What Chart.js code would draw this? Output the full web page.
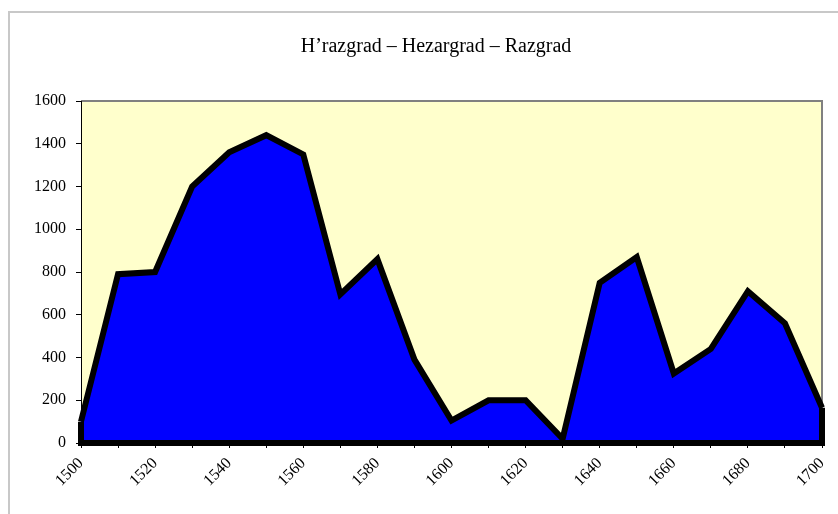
<!DOCTYPE html>
<html>
<head>
<meta charset="utf-8">
<script src="https://cdn.jsdelivr.net/npm/chart.js@4"></script>
<style>
  html, body { margin: 0; padding: 0; background: #ffffff; }
  #contenedor { width: 838px; height: 514px; }
</style>
</head>
<body>
<div id="contenedor"><canvas id="graficoRazgrad" width="838" height="514"></canvas></div>
<script>
// Años (categorías) y población
const anios = ['1500', '1510', '1520', '1530', '1540', '1550', '1560', '1570', '1580', '1590', '1600',
               '1610', '1620', '1630', '1640', '1650', '1660', '1670', '1680', '1690', '1700'];
const valores = [100, 790, 800, 1200, 1360, 1440, 1350, 695, 860, 390, 105,
                 200, 200, 20, 750, 870, 325, 440, 710, 560, 165];
const ticksY = [0, 200, 400, 600, 800, 1000, 1200, 1400, 1600];
const titulo = 'H\u2019razgrad \u2013 Hezargrad \u2013 Razgrad';

const fuente = "'Liberation Serif', 'DejaVu Serif', serif";

// Fondo amarillo del área, marcos y título
const fondoPlugin = {
    id: 'fondo',
    beforeDraw: (chart) => {
        const { ctx, chartArea: a } = chart;
        ctx.save();
        // marco exterior gris claro
        ctx.strokeStyle = '#c8c8c8';
        ctx.lineWidth = 2;
        ctx.beginPath();
        ctx.moveTo(9, chart.height);
        ctx.lineTo(9, 12);
        ctx.lineTo(chart.width, 12);
        ctx.stroke();
        // área de trazado
        ctx.fillStyle = '#ffffcc';
        ctx.fillRect(a.left, a.top, a.right - a.left, a.bottom - a.top);
        ctx.strokeStyle = '#808080';
        ctx.lineWidth = 2;
        ctx.beginPath();
        ctx.moveTo(a.left, a.top);
        ctx.lineTo(a.right, a.top);
        ctx.lineTo(a.right, a.bottom);
        ctx.stroke();
        // título (centrado en el marco exterior, que sigue fuera de la imagen)
        ctx.fillStyle = '#000000';
        ctx.font = '20px ' + fuente;
        ctx.textAlign = 'center';
        ctx.textBaseline = 'middle';
        ctx.fillText(titulo, 436, 47);
        ctx.restore();
    }
};

// Cierra el polígono del área con el mismo borde negro
const bordePlugin = {
    id: 'borde',
    afterDatasetsDraw: (chart) => {
        const pts = chart.getDatasetMeta(0).data;
        const y0 = chart.scales.y.getPixelForValue(0);
        const ctx = chart.ctx;
        ctx.save();
        ctx.strokeStyle = '#000000';
        ctx.lineWidth = 6;
        ctx.lineJoin = 'miter';
        ctx.beginPath();
        ctx.moveTo(pts[pts.length - 1].x, pts[pts.length - 1].y);
        ctx.lineTo(pts[pts.length - 1].x, y0);
        ctx.lineTo(pts[0].x, y0);
        ctx.lineTo(pts[0].x, pts[0].y);
        ctx.stroke();
        ctx.restore();
    }
};

new Chart(document.getElementById('graficoRazgrad').getContext('2d'), {
    type: 'line',
    data: {
        labels: anios,
        datasets: [{
            data: valores,
            backgroundColor: '#0000ff',
            borderColor: '#000000',
            borderWidth: 6,
            borderJoinStyle: 'miter',
            fill: 'origin',
            pointRadius: 0,
            tension: 0
        }]
    },
    options: {
        responsive: false,
        animation: false,
        layout: { padding: { left: 10, right: 16, top: 101, bottom: 0 } },
        plugins: {
            legend: { display: false },
            tooltip: { enabled: false },
            title: { display: false }
        },
        scales: {
            x: {
                offset: false,
                grid: { drawOnChartArea: false, tickLength: 5, color: '#000000' },
                border: { color: '#000000', width: 1 },
                ticks: {
                    autoSkip: false,
                    maxRotation: 45,
                    minRotation: 45,
                    padding: 6,
                    color: '#000000',
                    font: { family: fuente, size: 16 },
                    callback: function (val, i) { return i % 2 === 0 ? anios[i] : ''; }
                },
                afterFit: (scale) => {
                    scale.height = 71;
                    scale.paddingLeft = 0;
                    scale.paddingRight = 0;
                }
            },
            y: {
                min: 0,
                max: 1600,
                grid: { drawOnChartArea: false, tickLength: 5, color: '#000000' },
                border: { color: '#000000', width: 1 },
                afterBuildTicks: (scale) => { scale.ticks = ticksY.map(v => ({ value: v })); },
                ticks: {
                    padding: 10,
                    color: '#000000',
                    font: { family: fuente, size: 16 },
                    callback: (v) => String(v)
                },
                afterFit: (scale) => { scale.width = 71; }
            }
        }
    },
    plugins: [fondoPlugin, bordePlugin]
});
</script>
</body>
</html>
